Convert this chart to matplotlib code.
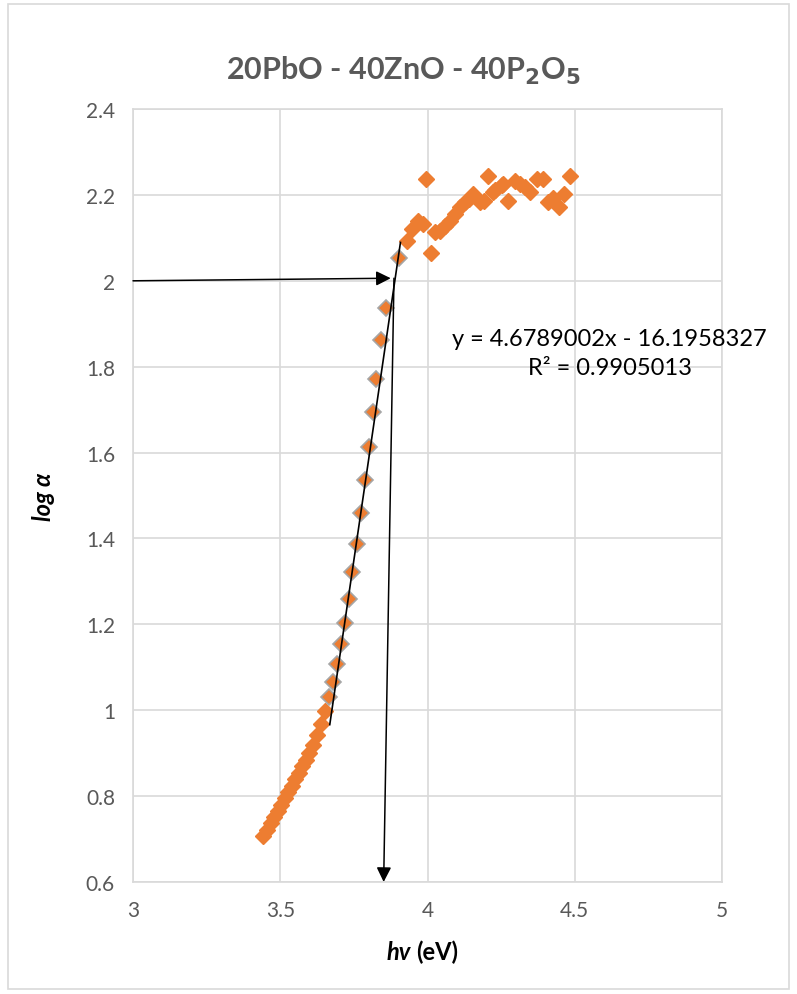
import matplotlib.pyplot as plt
from matplotlib.patches import Rectangle

plt.rcParams['font.family'] = ['Lato', 'DejaVu Sans']

# absorption edge data: photon energy (eV) and log(alpha)
hv_low = [3.443, 3.455, 3.467, 3.479, 3.491, 3.503, 3.515, 3.527, 3.539,
          3.551, 3.563, 3.575, 3.587, 3.599, 3.612, 3.625, 3.638, 3.652]
loga_low = [0.708, 0.722, 0.737, 0.751, 0.766, 0.780, 0.795, 0.809, 0.824,
            0.839, 0.854, 0.869, 0.885, 0.901, 0.919, 0.942, 0.968, 0.997]

# linear region used for the fit
hv_fit = [3.666, 3.679, 3.693, 3.706, 3.720, 3.733, 3.745, 3.760, 3.774,
          3.788, 3.801, 3.815, 3.826, 3.842, 3.859, 3.902]
loga_fit = [1.031, 1.066, 1.108, 1.154, 1.204, 1.259, 1.322, 1.387, 1.460,
            1.535, 1.613, 1.695, 1.772, 1.862, 1.937, 2.052]

hv_high = [3.929, 3.946, 3.969, 3.986, 3.994, 4.011, 4.025, 4.042, 4.059,
           4.076, 4.093, 4.110, 4.127, 4.142, 4.156, 4.178, 4.192, 4.206,
           4.223, 4.229, 4.252, 4.257, 4.274, 4.297, 4.314, 4.331, 4.348,
           4.371, 4.391, 4.410, 4.427, 4.445, 4.464, 4.484]
loga_high = [2.093, 2.121, 2.140, 2.132, 2.237, 2.064, 2.113, 2.117, 2.128,
             2.140, 2.155, 2.171, 2.183, 2.190, 2.202, 2.183, 2.186, 2.243,
             2.206, 2.212, 2.222, 2.225, 2.187, 2.233, 2.225, 2.218, 2.206,
             2.236, 2.237, 2.183, 2.192, 2.171, 2.202, 2.243]

slope = 4.6789002
intercept = -16.1958327
r2 = 0.9905013
fit_range = [3.668, 3.908]

# band gap read-off
gap_hv = 3.851
gap_y = 2.0

orange = '#ED7D31'
grey_txt = '#595959'
grid_c = '#d9d9d9'

fig = plt.figure(figsize=(7.97, 9.95), dpi=100)
ax = fig.add_axes([0.1669, 0.1126, 0.7391, 0.7768])

ax.plot(hv_low + hv_high, loga_low + loga_high, linestyle='none', marker='D',
        ms=8, color=orange, mec=orange, zorder=3)
ax.plot(hv_fit, loga_fit, linestyle='none', marker='D', ms=8.5,
        color=orange, mec='#a6a6a6', mew=1.2, zorder=3)

xs = fit_range
ax.plot(xs, [slope * x + intercept for x in xs], color='black', lw=1.2, zorder=4)

# arrows marking the gap energy
arrow = dict(arrowstyle='-|>', color='black', lw=1.1, mutation_scale=22,
             shrinkA=0, shrinkB=0)
ax.annotate('', xy=(3.875, gap_y + 0.006), xytext=(3.0, gap_y),
            arrowprops=arrow, annotation_clip=False, zorder=5)
ax.annotate('', xy=(gap_hv, 0.6), xytext=(3.886, gap_y + 0.006),
            arrowprops=arrow, annotation_clip=False, zorder=5)

ax.text(4.618, 1.866, 'y = %.7fx - %.7f' % (slope, -intercept),
        ha='center', va='center', fontsize=17, color='black')
ax.text(4.618, 1.797, 'R² = %.7f' % r2,
        ha='center', va='center', fontsize=17, color='black')

ax.set_xlim(3, 5)
ax.set_ylim(0.6, 2.4)
ax.set_xticks([3, 3.5, 4, 4.5, 5])
ax.set_xticklabels(['3', '3.5', '4', '4.5', '5'])
ax.set_yticks([0.6, 0.8, 1.0, 1.2, 1.4, 1.6, 1.8, 2.0, 2.2, 2.4])
ax.set_yticklabels(['0.6', '0.8', '1', '1.2', '1.4', '1.6', '1.8', '2', '2.2', '2.4'])
ax.tick_params(length=0, labelsize=15, labelcolor=grey_txt, pad=13)
ax.grid(True, color=grid_c, lw=1.2)
ax.set_axisbelow(True)
for sp in ax.spines.values():
    sp.set_color(grid_c)
    sp.set_linewidth(1.2)

ax.set_ylabel('log α', fontsize=17, fontweight='bold', style='italic',
              color='black', labelpad=22)
fig.text(0.5157, 0.043, 'hv', fontsize=17, fontweight='bold', style='italic',
         ha='right', va='center')
fig.text(0.5225, 0.043, '(eV)', fontsize=17, fontweight='bold',
         ha='left', va='center')

fig.text(0.506, 0.929, r'20PbO - 40ZnO - 40P$_\mathbf{2}$O$_\mathbf{5}$',
         fontsize=22, fontweight='bold', color=grey_txt, ha='center', va='center')

fig.patches.append(Rectangle((0.01, 0.005), 0.98, 0.99, transform=fig.transFigure,
                             fill=False, edgecolor=grid_c, lw=1.2))

fig.savefig('out.png', dpi=100)
